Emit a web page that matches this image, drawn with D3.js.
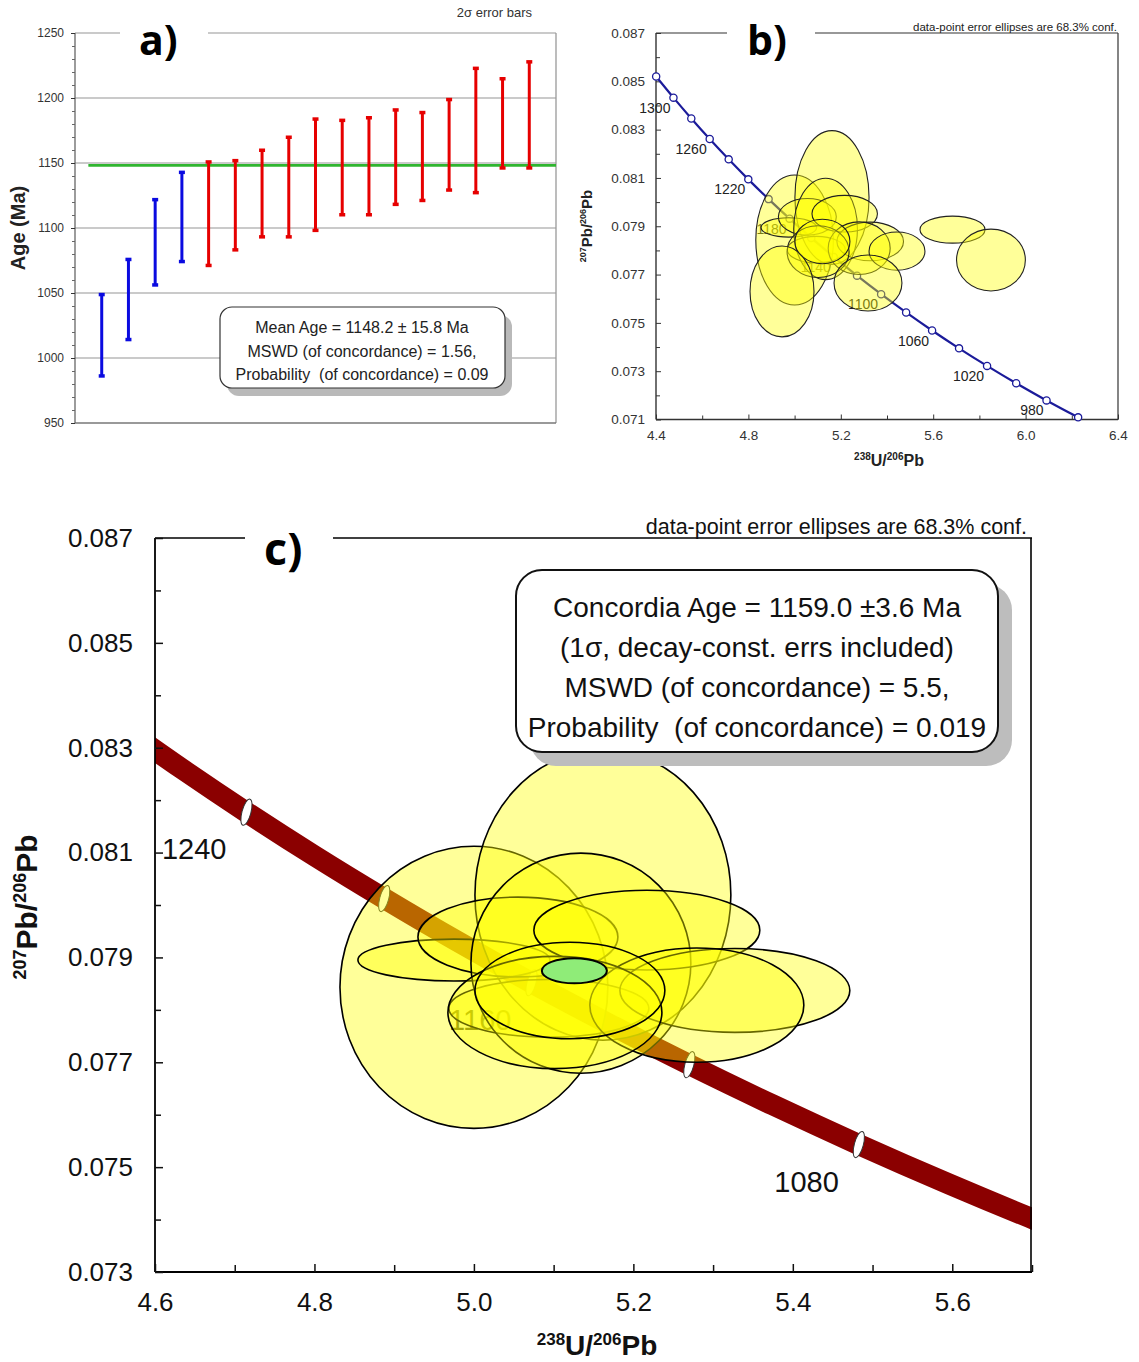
<!DOCTYPE html>
<html><head><meta charset="utf-8">
<script src="https://cdn.jsdelivr.net/npm/d3@7"></script>
<style>
body{margin:0;background:#fff}
svg{display:block}
text{font-family:"Liberation Sans",Arial,sans-serif;white-space:pre}
.lbl{font-family:"Open Sans",Lato,sans-serif;font-weight:700}
</style>
</head><body>
<svg width="1139" height="1362"></svg>
<script>
// ---------------- DATA ----------------
// Panel a: weighted-mean age plot (2-sigma error bars)
const aAnalysis = [1,2,3,4,5,6,7,8,9,10,11,12,13,14,15,16,17];
const aLow  = [986,1014,1056,1074,1071,1083,1093,1093,1098,1110,1110,1118,1121,1129,1127,1146,1146];
const aHigh = [1049,1076,1122,1143,1151,1152,1160,1170,1184,1183,1185,1191,1189,1199,1223,1215,1228];
const aGroup = ["excl","excl","excl","excl","incl","incl","incl","incl","incl","incl","incl","incl","incl","incl","incl","incl","incl"];
const aMean = 1148.2;
const aTicks = [950,1000,1050,1100,1150,1200,1250];
const aMinor = [960,970,980,990,1010,1020,1030,1040,1060,1070,1080,1090,1110,1120,1130,1140,1160,1170,1180,1190,1210,1220,1230,1240];
const aGrid = [1000,1050,1100,1150,1200,1250];
const aBoxLines = ["Mean Age = 1148.2 \u00b1 15.8 Ma","MSWD (of concordance) = 1.56,","Probability  (of concordance) = 0.09"];

// Concordia points: age (Ma), 238U/206Pb, 207Pb/206Pb
const concAge = [960,980,1000,1020,1040,1060,1080,1100,1120,1140,1160,1180,1200,1220,1240,1260,1280,1300,1320];
const concX = [6.2274,6.0906,5.9593,5.8332,5.7119,5.5952,5.4828,5.3746,5.2702,5.1695,5.0722,4.9783,4.8875,4.7996,4.7147,4.6325,4.5528,4.4756,4.4007];
const concY = [0.071090,0.071790,0.072499,0.073218,0.073946,0.074683,0.075431,0.076188,0.076954,0.077731,0.078517,0.079314,0.080123,0.080941,0.081770,0.082609,0.083461,0.084323,0.085197];
const bConcLabelAges = [980,1020,1060,1100,1140,1180,1220,1260,1300];
const cMarkerAges = [1080,1120,1160,1200,1240];
const cLabelAges = [1080,1160,1240];

// Data-point error ellipses (centre and half-axes)
const ellX  = [5.0000,5.1618,4.9749,5.0552,5.0940,5.1342,5.2169,5.3273,5.2796,5.1016,5.1204,4.9455,5.6835,5.8500,5.4433,5.3177];
const ellHX = [0.1680,0.1605,0.1204,0.1254,0.1254,0.1379,0.1417,0.1442,0.1342,0.1342,0.1191,0.1385,0.1407,0.1490,0.1210,0.1470];
const ellY  = [0.07843,0.08019,0.07895,0.07939,0.07803,0.07889,0.07952,0.07837,0.07809,0.07795,0.07837,0.07630,0.07886,0.07760,0.07797,0.07665];
const ellHY = [0.00269,0.00277,0.00040,0.00076,0.00055,0.00210,0.00076,0.00080,0.00109,0.00107,0.00092,0.00188,0.00056,0.00128,0.00079,0.00116];
const ellInC = [1,1,1,1,1,1,1,1,1,1,1,0,0,0,0,0];
// Concordia age ellipse
const cAgeX = [5.126], cAgeY = [0.078746], cAgeHX = [0.0408], cAgeHY = [0.000239];
const cBoxLines = ["Concordia Age = 1159.0 \u00b13.6 Ma","(1\u03c3, decay-const. errs included)","MSWD (of concordance) = 5.5,","Probability  (of concordance) = 0.019"];

const bXTicks = [4.4,4.8,5.2,5.6,6.0,6.4];
const bXMinor = [4.6,5.0,5.4,5.8,6.2];
const bYTicks = [0.071,0.073,0.075,0.077,0.079,0.081,0.083,0.085,0.087];
const bYMinor = [0.072,0.074,0.076,0.078,0.080,0.082,0.084,0.086];
const cXTicks = [4.6,4.8,5.0,5.2,5.4,5.6];
const cXMinor = [4.7,4.9,5.1,5.3,5.5,5.7];
const cYTicks = [0.073,0.075,0.077,0.079,0.081,0.083,0.085,0.087];
const cYMinor = [0.074,0.076,0.078,0.080,0.082,0.084,0.086];

// ---------------- DRAW ----------------
const svg = d3.select("svg");
svg.append("rect").attr("width",1139).attr("height",1362).attr("fill","#fff");
const conc = concAge.map((a,i)=>({age:a,x:concX[i],y:concY[i]}));
const ells = ellX.map((x,i)=>({x,hx:ellHX[i],y:ellY[i],hy:ellHY[i],inC:ellInC[i]}));

function styleAxis(g, color, size){
  g.select(".domain").remove();
  g.selectAll("line").attr("stroke",color);
  g.selectAll("text").attr("fill",color).attr("font-size",size).attr("font-family","'Liberation Sans',Arial,sans-serif");
}

// ===== Panel a =====
(function(){
  const x = d3.scaleLinear().domain([0,18]).range([75,556]);
  const y = d3.scaleLinear().domain([950,1250]).range([423,33]);
  const g = svg.append("g");
  g.selectAll("line.grid").data(aGrid).join("line")
    .attr("x1",d=>d===1250?208:75).attr("x2",556)
    .attr("y1",d=>y(d)).attr("y2",d=>y(d)).attr("stroke","#b8b8b8").attr("stroke-width",1.3);
  g.append("line").attr("x1",75).attr("x2",120).attr("y1",y(1250)).attr("y2",y(1250)).attr("stroke","#b8b8b8").attr("stroke-width",1.3);
  g.append("line").attr("x1",556).attr("x2",556).attr("y1",y(1250)).attr("y2",y(950)).attr("stroke","#999").attr("stroke-width",1.3);
  g.append("line").attr("x1",75).attr("x2",556).attr("y1",y(950)).attr("y2",y(950)).attr("stroke","#777").attr("stroke-width",1.3);
  g.append("line").attr("x1",75).attr("x2",75).attr("y1",y(1250)).attr("y2",y(950)).attr("stroke","#666").attr("stroke-width",1.3);
  const ax1 = g.append("g").attr("transform","translate(75,0)")
    .call(d3.axisLeft(y).tickValues(aTicks).tickSize(4).tickPadding(7).tickFormat(d3.format("d")));
  styleAxis(ax1,"#333",12);
  const ax2 = g.append("g").attr("transform","translate(75,0)")
    .call(d3.axisLeft(y).tickValues(aMinor).tickSize(3).tickFormat(""));
  styleAxis(ax2,"#666",12);
  // mean line
  g.append("line").attr("x1",x(0.5)).attr("x2",x(18)).attr("y1",y(aMean)).attr("y2",y(aMean))
    .attr("stroke","#2fb52f").attr("stroke-width",2.6);
  const col = d=>d==="excl"?"#0a0ae0":"#e60000";
  const bars = g.selectAll("g.bar").data(aAnalysis).join("g");
  bars.append("line").attr("x1",(d)=>x(d)).attr("x2",d=>x(d))
    .attr("y1",(d,i)=>y(aLow[i])).attr("y2",(d,i)=>y(aHigh[i]))
    .attr("stroke",(d,i)=>col(aGroup[i])).attr("stroke-width",3);
  bars.append("rect").attr("x",d=>x(d)-3).attr("y",(d,i)=>y(aHigh[i])-1.5).attr("width",6).attr("height",3.5).attr("fill",(d,i)=>col(aGroup[i]));
  bars.append("rect").attr("x",d=>x(d)-3).attr("y",(d,i)=>y(aLow[i])-2).attr("width",6).attr("height",3.5).attr("fill",(d,i)=>col(aGroup[i]));
  // box
  g.append("rect").attr("x",227).attr("y",315).attr("width",285).attr("height",81).attr("rx",12).attr("fill","#b9b9b9");
  g.append("rect").attr("x",220).attr("y",307).attr("width",285).attr("height",81).attr("rx",12).attr("fill","#fff").attr("stroke","#333").attr("stroke-width",1.2);
  g.selectAll("text.box").data(aBoxLines).join("text").attr("x",362).attr("y",(d,i)=>333+i*23.5)
    .attr("text-anchor","middle").attr("font-size",16).attr("fill","#222").text(d=>d);
  g.append("text").attr("x",532).attr("y",17).attr("text-anchor","end").attr("font-size",13).attr("fill","#333").text("2\u03c3 error bars");
  g.append("text").attr("transform","translate(25,228) rotate(-90)").attr("text-anchor","middle")
    .attr("font-size",20).attr("font-weight","bold").attr("fill","#222").text("Age (Ma)");
  g.append("text").attr("class","lbl").attr("x",139).attr("y",55).attr("font-size",41).attr("fill","#000").text("a)");
})();

// ===== Panel b =====
(function(){
  const x = d3.scaleLinear().domain([4.4,6.4]).range([656,1118]);
  const y = d3.scaleLinear().domain([0.071,0.087]).range([419.5,33]);
  const g = svg.append("g");
  const fr = "#333";
  g.append("line").attr("x1",656).attr("x2",727).attr("y1",33).attr("y2",33).attr("stroke",fr).attr("stroke-width",1.2);
  g.append("line").attr("x1",815).attr("x2",1118).attr("y1",33).attr("y2",33).attr("stroke",fr).attr("stroke-width",1.2);
  g.append("line").attr("x1",1118).attr("x2",1118).attr("y1",33).attr("y2",419.5).attr("stroke",fr).attr("stroke-width",1.2);
  g.append("line").attr("x1",656).attr("x2",656).attr("y1",33).attr("y2",419.5).attr("stroke",fr).attr("stroke-width",1.4);
  g.append("line").attr("x1",656).attr("x2",1118).attr("y1",419.5).attr("y2",419.5).attr("stroke",fr).attr("stroke-width",1.4);
  const fmt = d3.format(".3f");
  styleAxis(g.append("g").attr("transform","translate(656,0)").call(d3.axisLeft(y).tickValues(bYTicks).tickSize(-5).tickPadding(11).tickFormat(fmt)),"#333",13.5);
  styleAxis(g.append("g").attr("transform","translate(656,0)").call(d3.axisLeft(y).tickValues(bYMinor).tickSize(-4).tickFormat("")),"#333",13.5);
  styleAxis(g.append("g").attr("transform","translate(0,419.5)").call(d3.axisBottom(x).tickValues(bXTicks).tickSize(-5).tickPadding(11).tickFormat(d3.format(".1f"))),"#333",13.5);
  styleAxis(g.append("g").attr("transform","translate(0,419.5)").call(d3.axisBottom(x).tickValues(bXMinor).tickSize(-4).tickFormat("")),"#333",13.5);
  // axis titles
  const yt = g.append("text").attr("transform","translate(592,226) rotate(-90)").attr("text-anchor","middle").attr("font-weight","bold").attr("font-size",15).attr("fill","#222");
  yt.append("tspan").attr("font-size",9).attr("dy",-6).text("207");
  yt.append("tspan").attr("dy",6).text("Pb/");
  yt.append("tspan").attr("font-size",9).attr("dy",-6).text("206");
  yt.append("tspan").attr("dy",6).text("Pb");
  const xt = g.append("text").attr("x",889).attr("y",466).attr("text-anchor","middle").attr("font-weight","bold").attr("font-size",16).attr("fill","#222");
  xt.append("tspan").attr("font-size",10).attr("dy",-6).text("238");
  xt.append("tspan").attr("dy",6).text("U/");
  xt.append("tspan").attr("font-size",10).attr("dy",-6).text("206");
  xt.append("tspan").attr("dy",6).text("Pb");
  g.append("text").attr("x",1117).attr("y",31).attr("text-anchor","end").attr("font-size",11.5).attr("fill","#222").text("data-point error ellipses are 68.3% conf.");
  g.append("text").attr("class","lbl").attr("x",747).attr("y",55).attr("font-size",41).attr("fill","#000").text("b)");
  // concordia
  const line = d3.line().x(d=>x(d.x)).y(d=>y(d.y)).curve(d3.curveCatmullRom);
  g.append("path").datum(conc).attr("d",line).attr("fill","none").attr("stroke","#1b1b9a").attr("stroke-width",2.2);
  g.selectAll("circle.cc").data(conc).join("circle").attr("cx",d=>x(d.x)).attr("cy",d=>y(d.y)).attr("r",3.6)
    .attr("fill","#fff").attr("stroke","#1b1b9a").attr("stroke-width",1.3);
  g.selectAll("text.cl").data(conc.filter(d=>bConcLabelAges.includes(d.age))).join("text")
    .attr("x",d=>x(d.x)-3).attr("y",d=>y(d.y)+15).attr("text-anchor","end").attr("font-size",14).attr("fill","#222").text(d=>d.age);
  // ellipses
  g.selectAll("ellipse.e").data(ells).join("ellipse")
    .attr("cx",d=>x(d.x)).attr("cy",d=>y(d.y))
    .attr("rx",d=>x(d.x+d.hx)-x(d.x)).attr("ry",d=>y(d.y)-y(d.y+d.hy))
    .attr("fill","#ffff00").attr("fill-opacity",0.4).attr("stroke","#222").attr("stroke-width",1.1);
})();

// ===== Panel c =====
(function(){
  const x = d3.scaleLinear().domain([4.6,5.7]).range([155,1032]);
  const y = d3.scaleLinear().domain([0.073,0.087]).range([1272,538]);
  const g = svg.append("g");
  svg.append("clipPath").attr("id","cclip").append("rect").attr("x",155).attr("y",538).attr("width",877).attr("height",734);
  const inner = g.append("g").attr("clip-path","url(#cclip)");
  const band = conc.filter(d=>d.age>=1020 && d.age<=1280);
  const line = d3.line().x(d=>x(d.x)).y(d=>y(d.y)).curve(d3.curveCatmullRom);
  inner.append("path").datum(band).attr("d",line).attr("fill","none").attr("stroke","#8b0000").attr("stroke-width",21);
  inner.selectAll("ellipse.mk").data(conc.filter(d=>cMarkerAges.includes(d.age))).join("ellipse")
    .attr("transform",d=>`translate(${x(d.x)},${y(d.y)}) rotate(15)`)
    .attr("rx",4.5).attr("ry",13.5).attr("fill","#fff").attr("stroke","#333").attr("stroke-width",1);
  inner.selectAll("text.cl").data(conc.filter(d=>cLabelAges.includes(d.age))).join("text")
    .attr("x",d=>x(d.x)-20).attr("y",d=>y(d.y)+47).attr("text-anchor","end").attr("font-size",29).attr("fill","#111").text(d=>d.age);
  inner.selectAll("ellipse.e").data(ells.filter(d=>d.inC)).join("ellipse")
    .attr("cx",d=>x(d.x)).attr("cy",d=>y(d.y))
    .attr("rx",d=>x(d.x+d.hx)-x(d.x)).attr("ry",d=>y(d.y)-y(d.y+d.hy))
    .attr("fill","#ffff00").attr("fill-opacity",0.4).attr("stroke","#000").attr("stroke-width",1.6);
  inner.selectAll("ellipse.ca").data(cAgeX).join("ellipse")
    .attr("cx",d=>x(d)).attr("cy",(d,i)=>y(cAgeY[i]))
    .attr("rx",(d,i)=>x(d+cAgeHX[i])-x(d)).attr("ry",(d,i)=>y(cAgeY[i])-y(cAgeY[i]+cAgeHY[i]))
    .attr("fill","#8fec78").attr("stroke","#000").attr("stroke-width",2);
  // frame
  const fr="#000";
  g.append("line").attr("x1",155).attr("x2",245).attr("y1",538).attr("y2",538).attr("stroke",fr).attr("stroke-width",1.6);
  g.append("line").attr("x1",333).attr("x2",1032).attr("y1",538).attr("y2",538).attr("stroke",fr).attr("stroke-width",1.6);
  g.append("line").attr("x1",1031).attr("x2",1031).attr("y1",538).attr("y2",1272).attr("stroke",fr).attr("stroke-width",1.6);
  g.append("line").attr("x1",155).attr("x2",155).attr("y1",538).attr("y2",1272).attr("stroke",fr).attr("stroke-width",1.8);
  g.append("line").attr("x1",155).attr("x2",1032).attr("y1",1272).attr("y2",1272).attr("stroke",fr).attr("stroke-width",1.8);
  styleAxis(g.append("g").attr("transform","translate(155,0)").call(d3.axisLeft(y).tickValues(cYTicks).tickSize(-8).tickPadding(22).tickFormat(d3.format(".3f"))),"#111",26);
  styleAxis(g.append("g").attr("transform","translate(155,0)").call(d3.axisLeft(y).tickValues(cYMinor).tickSize(-6).tickFormat("")),"#111",26);
  styleAxis(g.append("g").attr("transform","translate(0,1272)").call(d3.axisBottom(x).tickValues(cXTicks).tickSize(-8).tickPadding(21).tickFormat(d3.format(".1f"))),"#111",26);
  styleAxis(g.append("g").attr("transform","translate(0,1272)").call(d3.axisBottom(x).tickValues(cXMinor).tickSize(-7).tickFormat("")),"#111",26);
  g.selectAll("g.tick line").attr("stroke-width",1.5);
  const yt = g.append("text").attr("transform","translate(37,907) rotate(-90)").attr("text-anchor","middle").attr("font-weight","bold").attr("font-size",30).attr("fill","#111");
  yt.append("tspan").attr("font-size",18).attr("dy",-11).text("207");
  yt.append("tspan").attr("dy",11).text("Pb/");
  yt.append("tspan").attr("font-size",18).attr("dy",-11).text("206");
  yt.append("tspan").attr("dy",11).text("Pb");
  const xt = g.append("text").attr("x",597).attr("y",1355).attr("text-anchor","middle").attr("font-weight","bold").attr("font-size",28).attr("fill","#111");
  xt.append("tspan").attr("font-size",17).attr("dy",-10).text("238");
  xt.append("tspan").attr("dy",10).text("U/");
  xt.append("tspan").attr("font-size",17).attr("dy",-10).text("206");
  xt.append("tspan").attr("dy",10).text("Pb");
  g.append("text").attr("x",1027).attr("y",534).attr("text-anchor","end").attr("font-size",21.5).attr("fill","#111").text("data-point error ellipses are 68.3% conf.");
  g.append("text").attr("class","lbl").attr("x",264).attr("y",565).attr("font-size",45).attr("fill","#000").text("c)");
  // box
  g.append("rect").attr("x",530).attr("y",584).attr("width",482).attr("height",182).attr("rx",26).attr("fill","#bdbdbd");
  g.append("rect").attr("x",516).attr("y",570).attr("width",482).attr("height",182).attr("rx",26).attr("fill","#fff").attr("stroke","#111").attr("stroke-width",2);
  g.selectAll("text.box").data(cBoxLines).join("text").attr("x",757).attr("y",(d,i)=>617+i*40)
    .attr("text-anchor","middle").attr("font-size",28).attr("fill","#111").text(d=>d);
})();
</script>
</body></html>
